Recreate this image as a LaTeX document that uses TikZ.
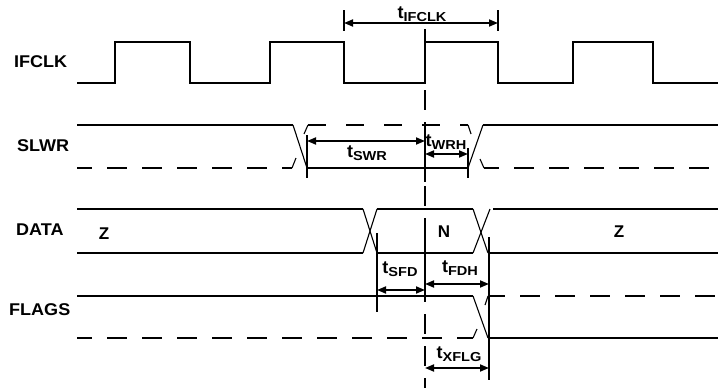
\documentclass[tikz,border=0pt]{standalone}
\usepackage{fontspec}
\setmainfont{Liberation Sans}
\newfontfamily\widesub[FakeStretch=1.12]{Liberation Sans}
\newfontfamily\widelab[FakeStretch=1.06]{Liberation Sans}
\usetikzlibrary{arrows.meta}
\newcommand{\tsb}[1]{{\fontsize{18}{20}\selectfont t}\raisebox{-2.5pt}{\widesub\fontsize{13}{14}\selectfont #1}}
\tikzset{
  wave/.style={line width=2pt},
  edgeline/.style={line width=1.1pt},
  dwave/.style={line width=2pt, dash pattern=on 20pt off 15pt, dash phase=5pt},
  tickline/.style={line width=1.8pt},
  dim/.style={line width=1.8pt, {Triangle[length=9pt,width=7pt]}-{Triangle[length=9pt,width=7pt]}},
  sig/.style={font=\widelab\fontsize{17}{20}\selectfont\bfseries, inner sep=0pt, anchor=west},
  tl/.style={font=\fontsize{17}{20}\selectfont\bfseries, inner sep=0pt},
}
\begin{document}
\begin{tikzpicture}[x=1pt,y=-1pt]
\useasboundingbox (0,0) rectangle (718,388);
% signal names
\node[sig] (nIFCLK) at (14,62) {IFCLK};
\node[sig] (nSLWR) at (17,146) {SLWR};
\node[sig] (nDATA) at (16,230) {DATA};
\node[sig] (nFLAGS) at (9,310) {FLAGS};
% IFCLK waveform
\draw[wave] (77,83) -| (115,42) -| (190,83) -| (270,42) -| (344,83) -| (425,42) -| (498,83) -| (573,42) -| (653,83) -- (718,83);
% t_IFCLK
\coordinate (a1) at (344,23); \coordinate (a2) at (498,23);
\draw[tickline] (344,10) -- (344,31);
\draw[tickline] (498,10) -- (498,31);
\draw[dim] (a1) -- (a2);
\node[tl] (lIFCLK) at (422,14) {\tsb{IFCLK}};
% vertical reference line
\draw[tickline] (425,29) -- (425,42);
\draw[line width=1.8pt, dash pattern=on 20pt off 12pt] (425,90) -- (425,388);
% SLWR
\draw[wave] (77,125) -- (293,125);
\draw[edgeline] (293,125) -- (307,168);
\draw[wave] (307,168) -- (468,168);
\draw[edgeline] (468,168) -- (483,125);
\draw[wave] (483,125) -- (718,125);
\draw[dwave] (77,168) -- (292,168);
\draw[line width=2pt, dash pattern=on 18pt off 20pt] (308,125) -- (468,125);
\draw[dwave] (484,168) -- (718,168);
\draw[edgeline] (292,168) -- (296,158);
\draw[edgeline] (304,134) -- (308,125);
\draw[edgeline] (468,125) -- (471,134);
\draw[edgeline] (480,159) -- (484,168);
\draw[tickline] (307,135) -- (307,178);
\draw[tickline] (468,148) -- (468,178);
\draw[tickline] (425,128) -- (425,182);
\coordinate (s1) at (307,141); \coordinate (s2) at (425,141);
\coordinate (w1) at (425,154); \coordinate (w2) at (468,154);
\draw[dim] (s1) -- (s2);
\draw[dim] (w1) -- (w2);
\node[tl] (lSWR) at (367,153) {\tsb{SWR}};
\node[tl] (lWRH) at (446,142) {\tsb{WRH}};
% DATA
\draw[wave] (77,209) -- (363,209);
\draw[wave] (77,253) -- (363,253);
\draw[edgeline] (363,209) -- (377,253);
\draw[edgeline] (363,253) -- (377,209);
\draw[wave] (377,209) -- (473,209);
\draw[wave] (377,253) -- (473,253);
\draw[edgeline] (473,209) -- (488,253);
\draw[edgeline] (473,253) -- (490,209);
\draw[wave] (493,209) -- (718,209);
\draw[wave] (488,253) -- (718,253);
\node[tl] (z1) at (104,234) {Z};
\node[tl] (nN) at (444,232) {N};
\node[tl] (z2) at (619,232) {Z};
\draw[tickline] (377,233) -- (377,312);
\draw[tickline] (489,237) -- (489,380);
\draw[tickline] (425,232) -- (425,292);
\coordinate (f1) at (377,290); \coordinate (f2) at (425,290);
\coordinate (h1) at (425,284); \coordinate (h2) at (489,284);
\coordinate (x1) at (425,368); \coordinate (x2) at (489,368);
\draw[dim] (f1) -- (f2);
\draw[dim] (h1) -- (h2);
\draw[dim] (x1) -- (x2);
\node[tl] (lSFD) at (400,269) {\tsb{SFD}};
\node[tl] (lFDH) at (460,268) {\tsb{FDH}};
\node[tl] (lXFLG) at (459,354) {\tsb{XFLG}};
% FLAGS
\draw[wave] (77,296) -- (473,296);
\draw[edgeline] (473,296) -- (488,338);
\draw[wave] (488,338) -- (718,338);
\draw[dwave] (77,338) -- (473,338);
\draw[dwave] (490,296) -- (718,296);
\draw[edgeline] (473,338) -- (477,329);
\draw[edgeline] (485,305) -- (488,296);
\end{tikzpicture}
\end{document}
